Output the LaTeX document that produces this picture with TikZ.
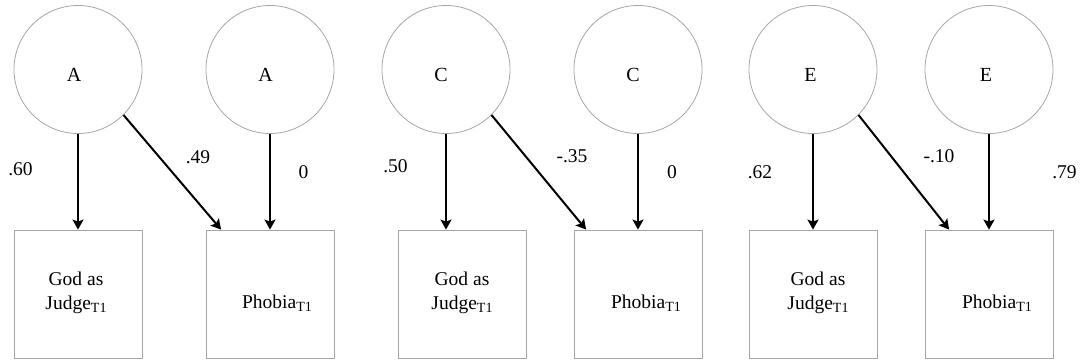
\documentclass[tikz,border=0pt]{standalone}
\usepackage{fontspec}
\setmainfont{Liberation Serif}
\newfontfamily\tnr{Liberation Serif}
\usetikzlibrary{arrows.meta}
\newcommand\subTone{\raisebox{-3pt}{\fontsize{14}{14}\selectfont T1}}
\begin{document}
\begin{tikzpicture}[x=1pt,y=-1pt,
  latent/.style={circle,draw=black!35,line width=0.8pt,minimum size=128pt,inner sep=0pt,
    text height=24pt,text depth=0pt,font=\tnr\fontsize{20}{20}\selectfont},
  observed/.style={rectangle,draw=black!35,line width=0.8pt,minimum width=128pt,minimum height=128pt,inner sep=0pt},
  pathar/.style={-{Stealth[length=10pt,width=11pt,inset=2pt]},line width=2pt},
  coef/.style={font=\tnr\fontsize{19.5}{19.5}\selectfont,inner sep=0pt},
  vtext/.style={font=\tnr\fontsize{19.5}{24}\selectfont,inner sep=0pt,align=center}]
\useasboundingbox (0,0) rectangle (1080,360);

% latent circles
\node[latent] (c1) at (78,69.5) {\hspace*{-8pt}A};
\node[latent] (c2) at (270,69.5) {\hspace*{-9pt}A};
\node[latent] (c3) at (446,69.5) {\hspace*{-10pt}C};
\node[latent] (c4) at (638,69.5) {\hspace*{-10pt}C};
\node[latent] (c5) at (813,69.5) {\hspace*{-5pt}E};
\node[latent] (c6) at (989,69.5) {\hspace*{-6pt}E};

% observed boxes
\node[observed] (b1) at (78.5,294) {};
\node[observed] (b2) at (270.5,294) {};
\node[observed] (b3) at (462,294) {};
\node[observed] (b4) at (638.5,294) {};
\node[observed] (b5) at (813.5,294) {};
\node[observed] (b6) at (989.5,294) {};

% box texts
\node[vtext] (t1) at ([xshift=-2.5pt,yshift=1.5pt]b1.center) {God as\\Judge\subTone};
\node[vtext] (t2) at ([xshift=6.5pt,yshift=-9pt]b2.center) {Phobia\subTone};
\node[vtext] (t3) at ([xshift=0pt,yshift=1.5pt]b3.center) {God as\\Judge\subTone};
\node[vtext] (t4) at ([xshift=7.5pt,yshift=-9pt]b4.center) {Phobia\subTone};
\node[vtext] (t5) at ([xshift=4.5pt,yshift=1.5pt]b5.center) {God as\\Judge\subTone};
\node[vtext] (t6) at ([xshift=7.5pt,yshift=-9pt]b6.center) {Phobia\subTone};

% paths
\draw[pathar] (c1.south) -- (c1.south |- b1.north);
\draw[pathar] (c1.south east) -- ([xshift=15pt]b2.north west);
\draw[pathar] (c2.south) -- (c2.south |- b2.north);
\draw[pathar] (c3.south) -- (c3.south |- b3.north);
\draw[pathar] (c3.south east) -- ([xshift=12pt]b4.north west);
\draw[pathar] (c4.south) -- (c4.south |- b4.north);
\draw[pathar] (c5.south) -- (c5.south |- b5.north);
\draw[pathar] (c5.south east) -- ([xshift=24pt]b6.north west);
\draw[pathar] (c6.south) -- (c6.south |- b6.north);

% coefficients
\node[coef] (l1) at (20.5,169) {.60};
\node[coef] (l2) at (198,157.5) {.49};
\node[coef] (l3) at (303.5,172) {0};
\node[coef] (l4) at (395.5,166) {.50};
\node[coef] (l5) at (572,156) {-.35};
\node[coef] (l6) at (672,172) {0};
\node[coef] (l7) at (760,172) {.62};
\node[coef] (l8) at (939,156) {-.10};
\node[coef] (l9) at (1064.5,172) {.79};
\end{tikzpicture}
\end{document}
